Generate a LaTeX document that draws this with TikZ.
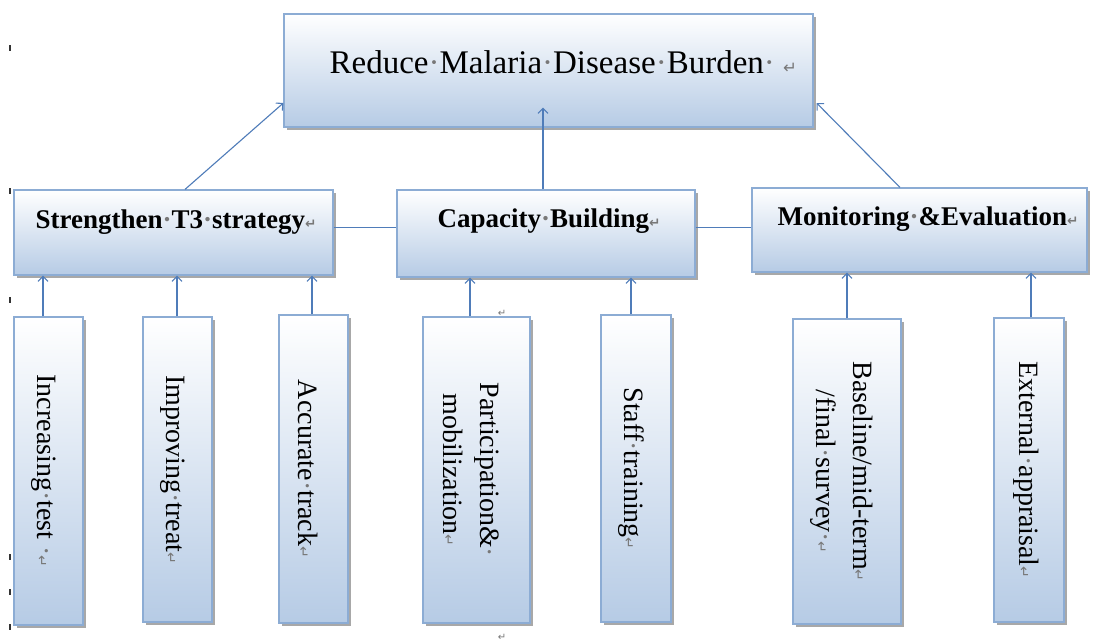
\documentclass[tikz,border=0pt]{standalone}
\usepackage{fontspec}
\setmainfont{Liberation Serif}
\newfontfamily\dvfont{DejaVu Sans}
\usetikzlibrary{shadows,calc,arrows.meta}
\definecolor{boxblue}{RGB}{182,203,229}
\definecolor{boxline}{RGB}{140,172,212}
\definecolor{arrowblue}{RGB}{79,124,185}
\definecolor{markgray}{RGB}{120,120,120}
\newcommand\ws{{\color{markgray}\char"00B7}}
\newcommand\retmark{{\color{markgray}\scalebox{0.5}{\dvfont\char"21B5}}}
\begin{document}
\begin{tikzpicture}[x=1pt,y=-1pt,
  box/.style={draw=boxline,line width=1.2pt,top color=white,bottom color=boxblue,
    inner sep=0pt,drop shadow={shadow xshift=3pt,shadow yshift=-3pt,fill=black!40,opacity=0.85}},
  toptext/.style={font=\fontsize{33}{40}\selectfont,inner sep=0pt,anchor=base west},
  midtext/.style={font=\bfseries\fontsize{27}{32}\selectfont,inner sep=0pt,anchor=base west},
  vtext/.style={font=\fontsize{28}{37}\selectfont,align=center,inner sep=0pt,rotate=-90},
  arr/.style={draw=arrowblue,line width=1.1pt,-{Straight Barb[length=5pt,width=10pt,line width=1.1pt]}},
  conn/.style={draw=arrowblue,line width=1.1pt},
  stray/.style={font=\fontsize{20}{24}\selectfont,inner sep=0pt},
  tick/.style={draw=black!80,line width=1.3pt}]
\path[fill=white,use as bounding box] (0,0) rectangle (1093,643);

% top box
\node[box,minimum width=529pt,minimum height=113pt] (top) at (548.5,70.5) {};
\node[toptext] (ttop) at ($(top.west)+(46,2.5)$) {Reduce\ws Malaria\ws Disease\ws Burden\ws\ \retmark};

% middle boxes
\node[box,minimum width=319pt,minimum height=85pt] (s) at (173.5,232.5) {};
\node[box,minimum width=298pt,minimum height=87pt] (c) at (546,233.5) {};
\node[box,minimum width=335pt,minimum height=84pt] (m) at (919.5,230) {};
\node[midtext] (ts) at ($(s.west)+(22,-4.5)$) {Strengthen\ws T3\ws strategy\retmark};
\node[midtext] (tc) at ($(c.west)+(41,-6.5)$) {Capacity\ws Building\retmark};
\node[midtext] (tm) at ($(m.west)+(26,-5)$) {Monitoring\ws\&Evaluation\retmark};

% bottom boxes
\node[box,minimum width=69pt,minimum height=308pt] (b1) at (48.5,471) {};
\node[box,minimum width=69pt,minimum height=305pt] (b2) at (177.5,469.5) {};
\node[box,minimum width=69pt,minimum height=308pt] (b3) at (313.5,469) {};
\node[box,minimum width=107pt,minimum height=306pt] (b4) at (476.5,470) {};
\node[box,minimum width=70pt,minimum height=307pt] (b5) at (636,468.5) {};
\node[box,minimum width=108pt,minimum height=305pt] (b6) at (847,471.5) {};
\node[box,minimum width=70pt,minimum height=304pt] (b7) at (1029,470) {};

\node[vtext] (t1) at ($(b1.center)+(-5,0)$) {Increasing\ws test \ws\retmark};
\node[vtext] (t2) at ($(b2.center)+(-5,0)$) {Improving\ws treat\retmark};
\node[vtext] (t3) at ($(b3.center)+(-5,0)$) {Accurate\ws track\retmark};
\node[vtext] (t4) at ($(b4.center)+(-5,0)$) {Participation\&\ws\\mobilization\retmark};
\node[vtext] (t5) at ($(b5.center)+(-5,0)$) {Staff\ws training\retmark};
\node[vtext] (t6) at ($(b6.center)+(-5,0)$) {Baseline/mid-term\retmark\\/final\ws survey\ws\retmark};
\node[vtext] (t7) at ($(b7.center)+(-3,0)$) {External\ws appraisal\retmark};

% stray paragraph marks
\node[stray] (r1) at (502,313) {\retmark};
\node[stray] (r2) at (502,637) {\retmark};

% connectors between middle boxes
\coordinate (h1) at ($(s.east)+(0,-5)$);
\coordinate (h2) at ($(c.east)+(0,-6)$);
\draw[conn] (h1) -- (h1 -| c.west);
\draw[conn] (h2) -- (h2 -| m.west);

% arrows to top box
\draw[arr] ($(s.north)+(11.5,0)$) -- ($(top.west)+(0,32.5)$);
\draw[arr] ($(c.north)+(-3,0)$) -- ($(c.north |- top.south)+(-3,-20)$);
\draw[arr] ($(m.north)+(-19.5,0)$) -- ($(top.east)+(3,32.5)$);

% arrows from bottom boxes
\draw[arr] ($(b1.north)+(-5.5,0)$) -- ($(b1.north |- s.south)+(-5.5,0)$);
\draw[arr] ($(b2.north)+(-0.5,0)$) -- ($(b2.north |- s.south)+(-0.5,0)$);
\draw[arr] ($(b3.north)+(-1.5,0)$) -- ($(b3.north |- s.south)+(-1.5,0)$);
\draw[arr] ($(b4.north)+(-6.5,0)$) -- ($(b4.north |- c.south)+(-6.5,0)$);
\draw[arr] ($(b5.north)+(-5,0)$) -- ($(b5.north |- c.south)+(-5,0)$);
\draw[arr] (b6.north) -- (b6.north |- m.south);
\draw[arr] ($(b7.north)+(2,0)$) -- ($(b7.north |- m.south)+(2,0)$);

% left margin marks
\foreach \yy in {48,191,300,557,592,627}
  \draw[tick] (10,\yy-3) -- (10,\yy+3);
\end{tikzpicture}
\end{document}
